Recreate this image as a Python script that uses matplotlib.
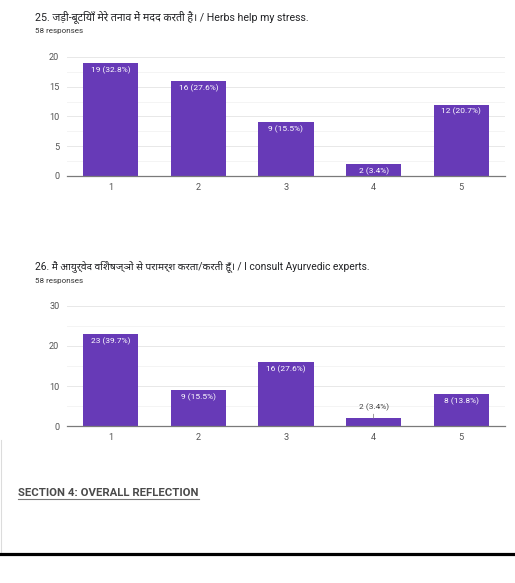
import matplotlib
matplotlib.use("Agg")
import matplotlib.pyplot as plt
from matplotlib.ticker import MultipleLocator

# Survey results, scale 1-5, 58 responses each
categories = [1, 2, 3, 4, 5]
q25_counts = [19, 16, 9, 2, 12]
q25_pcts = [32.8, 27.6, 15.5, 3.4, 20.7]
q26_counts = [23, 9, 16, 2, 8]
q26_pcts = [39.7, 15.5, 27.6, 3.4, 13.8]

q25_title = "25. जड़ी-बूटियाँ मेरे तनाव में मदद करती हैं। / Herbs help my stress."
q26_title = "26. मैं आयुर्वेद विशेषज्ञों से परामर्श करता/करती हूँ। / I consult Ayurvedic experts."
responses_text = "58 responses"
section_text = "SECTION 4: OVERALL REFLECTION"

PURPLE = "#673ab7"
TITLE_FONT = ["Roboto", "Noto Sans Devanagari"]
LABEL_SIZE = 6.0
TICK_SIZE = 6.6

W, H = 515, 583
fig = plt.figure(figsize=(W / 100, H / 100), dpi=100)
fig.patch.set_facecolor("white")


def px(x, y):
    # pixel coords (from top-left) -> figure fraction
    return x / W, 1 - y / H


def draw_chart(ax, counts, pcts, ymax, step, small_inside):
    bars = ax.bar(categories, counts, width=0.63, color=PURPLE, zorder=3)
    ax.set_xlim(0.5, 5.5)
    ax.set_ylim(0, ymax)
    ax.yaxis.set_major_locator(MultipleLocator(step))
    ax.yaxis.set_minor_locator(MultipleLocator(step / 2))
    ax.grid(axis="y", which="major", color="#e8e8e8", linewidth=0.7, zorder=0)
    ax.grid(axis="y", which="minor", color="#f4f4f4", linewidth=0.7, zorder=0)
    for s in ["top", "right", "left"]:
        ax.spines[s].set_visible(False)
    ax.spines["bottom"].set_color("#7a7a7a")
    ax.spines["bottom"].set_linewidth(0.9)
    ax.spines["bottom"].set_zorder(4)
    ax.tick_params(axis="both", which="both", length=0, labelsize=TICK_SIZE,
                   labelcolor="#555555", labelfontfamily="Roboto")
    ax.tick_params(axis="y", pad=5.5)
    ax.tick_params(axis="x", pad=5)
    ax.set_xticks(categories)
    for b, c, p in zip(bars, counts, pcts):
        label = f"{c} ({p}%)"
        x = b.get_x() + b.get_width() / 2
        if small_inside or c >= 3:
            ax.annotate(label, (x, c), xytext=(0, -2.2), textcoords="offset points",
                        ha="center", va="top", fontsize=LABEL_SIZE, color="white",
                        family="Roboto", zorder=5)
        else:
            # short bar: label sits above with a leader line
            ax.annotate(label, (x, c), xytext=(0, 8), textcoords="offset points",
                        ha="center", va="center", fontsize=LABEL_SIZE, color="#444444",
                        family="Roboto", zorder=5,
                        arrowprops=dict(arrowstyle="-", color="#8a8a8a", lw=0.6,
                                        shrinkA=0.5, shrinkB=0))


# chart 1
l, b1 = px(67, 176)
ax1 = fig.add_axes([l, b1, 438 / W, 119 / H])
draw_chart(ax1, q25_counts, q25_pcts, 20, 5, small_inside=True)
# chart 2
_, b2 = px(67, 426)
ax2 = fig.add_axes([l, b2, 438 / W, 120 / H])
draw_chart(ax2, q26_counts, q26_pcts, 30, 10, small_inside=False)

# titles
fig.text(*px(35, 17), q25_title, family=TITLE_FONT, fontsize=7.7, color="#202124", va="center")
fig.text(*px(35, 31), responses_text, family="Roboto", fontsize=5.8, color="#333333", va="center")
fig.text(*px(35, 266), q26_title, family=TITLE_FONT, fontsize=7.35, color="#202124", va="center")
fig.text(*px(35, 281), responses_text, family="Roboto", fontsize=5.8, color="#333333", va="center")

# section heading with underline
sec = fig.text(*px(18, 493), section_text, family="Roboto", fontsize=8.2,
               fontweight="bold", color="#4a4a4a", va="center")
fig.canvas.draw()
bb = sec.get_window_extent()
fig.add_artist(plt.Line2D([bb.x0 / W, bb.x1 / W], [px(0, 499)[1]] * 2,
                          color="#777777", lw=0.8))

# faint card edge on the left and page divider
fig.add_artist(plt.Line2D([px(1, 0)[0]] * 2, [px(0, 440)[1], px(0, 552)[1]],
                          color="#dcdcdc", lw=0.8))
fig.add_artist(plt.Line2D([0, 1], [px(0, 553.5)[1]] * 2, color="black", lw=2.3))

fig.savefig("out.png", dpi=100, facecolor="white")
